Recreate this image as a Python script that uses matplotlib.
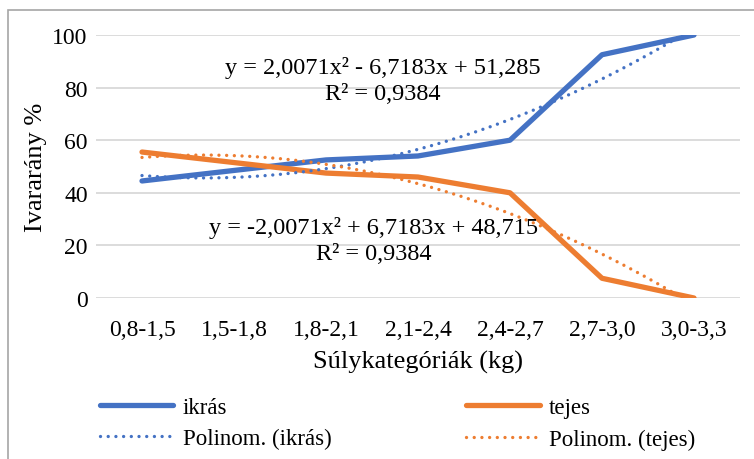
import numpy as np
import matplotlib
matplotlib.use("Agg")
import matplotlib.pyplot as plt
from matplotlib.patches import Rectangle

kategoriak = ["0,8-1,5", "1,5-1,8", "1,8-2,1", "2,1-2,4", "2,4-2,7", "2,7-3,0", "3,0-3,3"]
ikras = [44.5, 48.5, 52.5, 54.0, 60.0, 92.5, 100.0]
tejes = [55.5, 51.5, 47.5, 46.0, 40.0, 7.5, 0.0]

egyenlet_ikras = ["y = 2,0071x² - 6,7183x + 51,285", "R² = 0,9384"]
egyenlet_tejes = ["y = -2,0071x² + 6,7183x + 48,715", "R² = 0,9384"]

KEK = "#4472C4"
NARANCS = "#ED7D31"
BETU = "Liberation Serif"

plt.rcParams["font.family"] = "serif"
plt.rcParams["font.serif"] = [BETU, "DejaVu Serif"]

fig = plt.figure(figsize=(7.54, 4.6), dpi=100)
ax = fig.add_axes([96 / 754, 1 - 299 / 460, 644 / 754, 263 / 460])

x = np.arange(1, len(kategoriak) + 1)

l1, = ax.plot(x, ikras, color=KEK, lw=3.8, solid_capstyle="round", solid_joinstyle="round", zorder=3)
l2, = ax.plot(x, tejes, color=NARANCS, lw=3.8, solid_capstyle="round", solid_joinstyle="round", zorder=3)

# masodfoku trendvonalak (Excel "Polinom.")
p_ikras = np.polyfit(x, ikras, 2)
p_tejes = np.polyfit(x, tejes, 2)
xs = np.linspace(1, len(kategoriak), 200)
t1, = ax.plot(xs, np.polyval(p_ikras, xs), color=KEK, lw=2.4,
              linestyle=(0, (0.01, 2.3)), dash_capstyle="round", zorder=4)
t2, = ax.plot(xs, np.polyval(p_tejes, xs), color=NARANCS, lw=2.4,
              linestyle=(0, (0.01, 2.3)), dash_capstyle="round", zorder=4)

ax.set_xlim(0.5, len(kategoriak) + 0.5)
ax.set_ylim(0, 100)
ax.set_yticks(range(0, 101, 20))
ax.set_xticks(x)
ax.set_xticklabels(kategoriak)
ax.tick_params(length=0, labelsize=17, pad=15)
ax.tick_params(axis="y", pad=6)
for lab in ax.get_xticklabels() + ax.get_yticklabels():
    lab.set_family(BETU)
ax.grid(axis="y", color="#D9D9D9", lw=1.3)
ax.set_axisbelow(True)
for s in ax.spines.values():
    s.set_visible(False)

ax.set_ylabel("Ivararány %", fontsize=19, labelpad=4, family=BETU)
ax.set_xlabel("Súlykategóriák (kg)", fontsize=19, labelpad=7, family=BETU)

# trendvonal egyenletek, soronkent
for sor, yy in zip(egyenlet_ikras, [68, 95]):
    fig.text(383 / 754, 1 - yy / 460, sor, fontsize=17.5, ha="center", va="center", family=BETU)
for sor, yy in zip(egyenlet_tejes, [228, 255]):
    fig.text(374 / 754, 1 - yy / 460, sor, fontsize=17.5, ha="center", va="center", family=BETU)

fig.legend([l1, t1, l2, t2], ["ikrás", "Polinom. (ikrás)", "tejes", "Polinom. (tejes)"],
           ncol=2, loc="upper left", bbox_to_anchor=(100 / 754, 1 - 398 / 460),
           frameon=False, prop={"family": BETU, "size": 16.5}, handlelength=3.2,
           handletextpad=0.4, columnspacing=5.9, labelspacing=0.45, borderpad=0,
           borderaxespad=0)

fig.patches.append(Rectangle((8 / 754, -0.1), 1.2, 1 - 11 / 460 + 0.1, transform=fig.transFigure,
                             fill=False, edgecolor="#A6A6A6", lw=1.2))

fig.savefig("out.png", dpi=100)
